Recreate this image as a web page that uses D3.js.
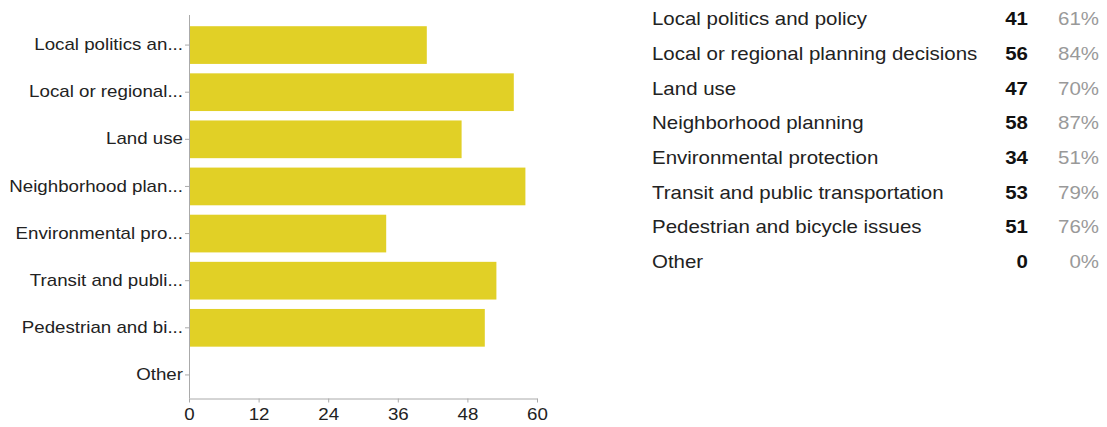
<!DOCTYPE html>
<html><head><meta charset="utf-8">
<script src="https://cdn.jsdelivr.net/npm/d3@7"></script>
<style>body{margin:0;background:#fff}svg{display:block;font-family:"Liberation Sans",Arial,sans-serif}</style>
</head><body>
<svg id="c" width="1107" height="427"></svg>
<script>
const categories = ["Local politics and policy","Local or regional planning decisions","Land use","Neighborhood planning","Environmental protection","Transit and public transportation","Pedestrian and bicycle issues","Other"];
const shortLabels = ["Local politics an...","Local or regional...","Land use","Neighborhood plan...","Environmental pro...","Transit and publi...","Pedestrian and bi...","Other"];
const counts = [41,56,47,58,34,53,51,0];
const percents = ["61%","84%","70%","87%","51%","79%","76%","0%"];
const xTicks = [0,12,24,36,48,60];

const SX = 1.17; // horizontal stretch of glyphs in the reference
function stretch(sel){
  sel.each(function(){
    const t = d3.select(this);
    const px = +t.attr("x") || 0, py = +t.attr("y") || 0;
    t.attr("transform", `translate(${px},${py}) scale(${SX},1) translate(${-px},${-py})`);
  });
}

const svg = d3.select("#c");
const x = d3.scaleLinear().domain([0,60]).range([189,537]);
const y = d3.scaleBand().domain(categories).range([21.5,398.5]).paddingInner(0.2).paddingOuter(0.1);

svg.append("g").selectAll("rect").data(categories).join("rect")
  .attr("x", x(0)+1).attr("y", d=>y(d))
  .attr("width", (d,i)=>Math.max(0,x(counts[i])-x(0)-1))
  .attr("height", y.bandwidth())
  .attr("fill","#e1d026");

const yAxis = d3.axisLeft(y).tickSize(4).tickSizeOuter(0).tickPadding(2)
  .tickFormat((d,i)=>shortLabels[i]);
const gy = svg.append("g").attr("transform",`translate(${x(0)},0)`).call(yAxis);
gy.select(".domain").attr("stroke","#aaa").attr("d","M0.5,15V398.5");
gy.selectAll(".tick line").attr("stroke","#aaa");
gy.selectAll(".tick text").attr("fill","#222").style("font-size","16px").style("font-family","Liberation Sans, Arial, sans-serif").call(stretch);

const xAxis = d3.axisBottom(x).tickValues(xTicks).tickSize(4).tickSizeOuter(0).tickPadding(6);
const gx = svg.append("g").attr("transform","translate(0,398.5)").call(xAxis);
gx.select(".domain").attr("stroke","#aaa");
gx.selectAll(".tick line").attr("stroke","#aaa");
gx.selectAll(".tick text").attr("fill","#222").style("font-size","16px").style("font-family","Liberation Sans, Arial, sans-serif").call(stretch);

const ry = d3.scalePoint().domain(categories).range([19,262]);
const table = svg.append("g").style("font-size","17.5px");
table.selectAll("text.lab").data(categories).join("text").attr("class","lab")
  .attr("x",652).attr("y",d=>ry(d)).attr("dy","0.35em").attr("fill","#222").text(d=>d).call(stretch);
table.selectAll("text.cnt").data(categories).join("text").attr("class","cnt")
  .attr("x",1028).attr("y",d=>ry(d)).attr("dy","0.35em").attr("text-anchor","end")
  .attr("font-weight","bold").attr("fill","#111").text((d,i)=>counts[i]).call(stretch);
table.selectAll("text.pct").data(categories).join("text").attr("class","pct")
  .attr("x",1099).attr("y",d=>ry(d)).attr("dy","0.35em").attr("text-anchor","end")
  .attr("fill","#999").text((d,i)=>percents[i]).call(stretch);
</script>
</body></html>
